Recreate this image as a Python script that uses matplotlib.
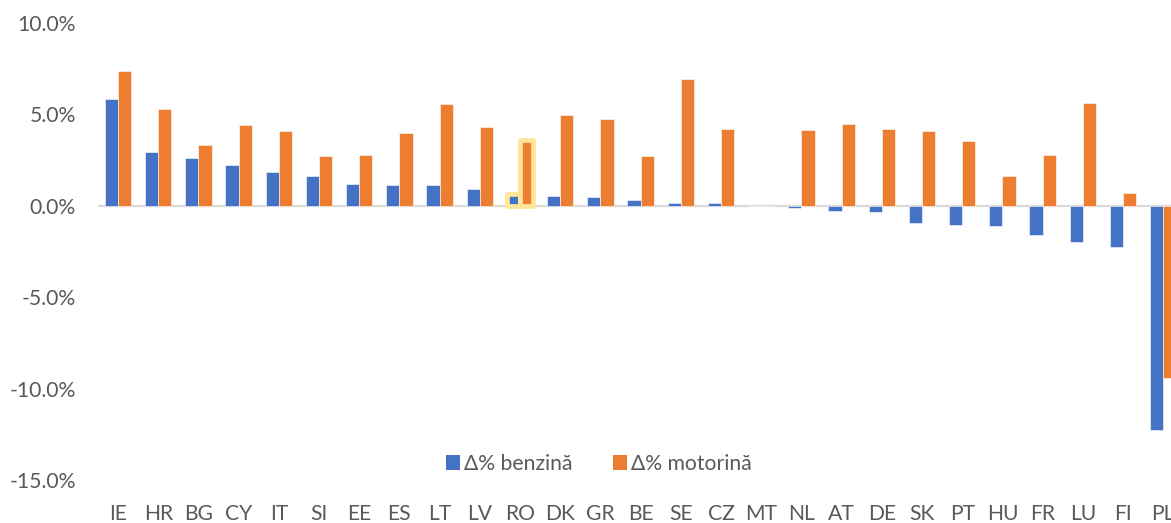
import matplotlib
matplotlib.use("Agg")
import matplotlib.pyplot as plt
import numpy as np
from matplotlib.patches import Patch
from matplotlib.ticker import FuncFormatter

countries = ["IE", "HR", "BG", "CY", "IT", "SI", "EE", "ES", "LT", "LV", "RO",
             "DK", "GR", "BE", "SE", "CZ", "MT", "NL", "AT", "DE", "SK", "PT",
             "HU", "FR", "LU", "FI", "PL"]
benzina = [5.82, 2.95, 2.60, 2.23, 1.84, 1.60, 1.18, 1.13, 1.13, 0.91, 0.62,
           0.53, 0.49, 0.31, 0.16, 0.14, 0.0, -0.15, -0.29, -0.32, -0.92, -1.07,
           -1.10, -1.61, -1.96, -2.23, -12.23]
motorina = [7.36, 5.27, 3.34, 4.40, 4.06, 2.73, 2.79, 3.95, 5.57, 4.28, 3.61,
            4.97, 4.75, 2.72, 6.94, 4.18, 0.0, 4.13, 4.48, 4.21, 4.08, 3.53,
            1.63, 2.79, 5.60, 0.67, -9.43]
highlight = "RO"

BLUE = "#4472C4"
ORANGE = "#ED7D31"
GREY_TEXT = "#595959"
HIGHLIGHT = "#FFE699"
FS = 15.2

plt.rcParams["font.family"] = ["Lato", "DejaVu Sans"]

fig = plt.figure(figsize=(11.71, 5.23), dpi=100)
ax = fig.add_axes([0.0836, 0.0818, 0.9269, 0.8748])

x = np.arange(len(countries))
w = 0.33
bars_b = ax.bar(x - w / 2, benzina, w, color=BLUE, edgecolor="white",
                linewidth=0.4, zorder=3)
bars_m = ax.bar(x + w / 2, motorina, w, color=ORANGE, edgecolor="white",
                linewidth=0.4, zorder=3)

hi = countries.index(highlight)
for b in (bars_b[hi], bars_m[hi]):
    b.set_edgecolor(HIGHLIGHT)
    b.set_linewidth(3.4)
    b.set_joinstyle("round")
    b.set_zorder(4)

ax.axhline(0, color="#D9D9D9", linewidth=1.6, zorder=2)

ax.set_xlim(-0.5, len(countries) - 0.5)
ax.set_ylim(-15, 10)
ax.set_yticks([10, 5, 0, -5, -10, -15])
ax.yaxis.set_major_formatter(FuncFormatter(lambda v, p: f"{v:.1f}%"))
ax.set_xticks(x)
ax.set_xticklabels(countries)

for s in ax.spines.values():
    s.set_visible(False)
ax.tick_params(axis="both", length=0, labelsize=FS, labelcolor=GREY_TEXT)
ax.tick_params(axis="x", pad=17)
ax.tick_params(axis="y", pad=16)

handles = [Patch(facecolor=BLUE, label="Δ% benzină"),
           Patch(facecolor=ORANGE, label="Δ% motorină")]
fig.legend(handles=handles, loc="center", bbox_to_anchor=(0.5115, 0.1128),
           ncol=2, frameon=False, fontsize=FS, labelcolor=GREY_TEXT,
           handlelength=0.66, handleheight=0.66, handletextpad=0.2,
           columnspacing=1.9)

fig.savefig("out.png", dpi=100)
